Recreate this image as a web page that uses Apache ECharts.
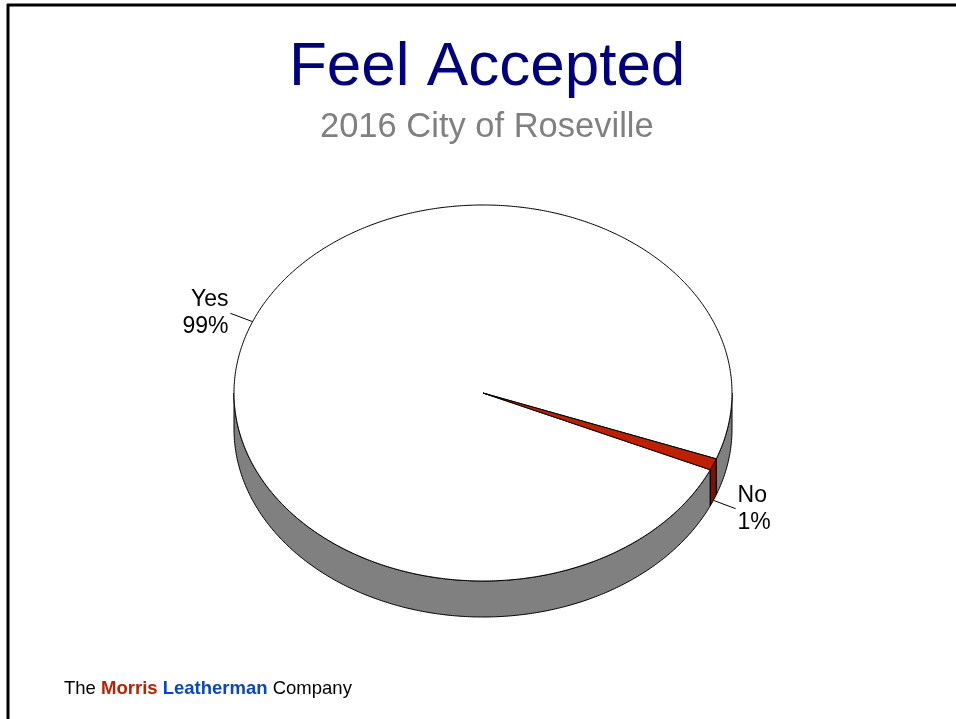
<!DOCTYPE html>
<html>
<head>
<meta charset="utf-8">
<title>Feel Accepted</title>
<script src="https://cdn.jsdelivr.net/npm/echarts@6/dist/echarts.min.js"></script>
<style>
  html, body { margin: 0; padding: 0; background: #fff; }
  #main { width: 956px; height: 719px; }
</style>
</head>
<body>
<div id="main"></div>
<script>
// 数据
var categories = ['Yes', 'No'];
var values = [99, 1];
var sliceColors = ['#ffffff', '#c02000'];
var sideColors = ['#808080', '#7a1400'];

// 椭圆饼图的布局
var CX = 483, CY = 393, RX = 249, RY = 188, DEPTH = 36;
var START = 24.1; // 屏幕角度, 顺时针

var total = values.reduce(function (a, b) { return a + b; }, 0);

function pt(deg, dy) {
    var r = deg * Math.PI / 180;
    return [CX + RX * Math.cos(r), CY + RY * Math.sin(r) + (dy || 0)];
}

function arc(a, b, dy) {
    var pts = [];
    var n = Math.max(2, Math.ceil(Math.abs(b - a) / 0.5));
    for (var k = 0; k <= n; k++) {
        pts.push(pt(a + (b - a) * k / n, dy));
    }
    return pts;
}

function renderItem(params, api) {
    var i = params.dataIndex;
    var cum = 0;
    for (var j = 0; j < i; j++) cum += values[j];
    var a0 = START + 360 * cum / total;
    var a1 = a0 + 360 * values[i] / total;
    var children = [];

    // 侧面 (只画前半部分)
    for (var k = 0; k < 3; k++) {
        var s = Math.max(a0, k * 360), e = Math.min(a1, k * 360 + 180);
        if (e > s) {
            var top = arc(s, e, 0);
            var bot = arc(e, s, DEPTH);
            children.push({
                type: 'polygon',
                z2: 1,
                shape: { points: top.concat(bot) },
                style: { fill: sideColors[i], stroke: '#000', lineWidth: 1 }
            });
        }
    }

    // 顶面
    children.push({
        type: 'polygon',
        z2: 5,
        shape: { points: [[CX, CY]].concat(arc(a0, a1, 0)) },
        style: { fill: sliceColors[i], stroke: '#000', lineWidth: 1 }
    });

    // 标签和引导线
    var mid = (a0 + a1) / 2;
    var r = mid * Math.PI / 180;
    var c = Math.cos(r), sn = Math.sin(r);
    var p0 = pt(mid, sn > 0 ? DEPTH : 0);
    var p1 = [p0[0] + 24 * c, p0[1] + 22 * sn];
    children.push({
        type: 'polyline',
        z2: 6,
        shape: { points: [p0, p1] },
        style: { stroke: '#000', lineWidth: 1, fill: null }
    });
    children.push({
        type: 'text',
        z2: 6,
        x: p1[0] + (c >= 0 ? 2 : -2),
        y: p1[1],
        style: {
            text: categories[i] + '\n' + Math.round(values[i] / total * 100) + '%',
            fill: '#000',
            font: '23px "Liberation Sans", Arial, sans-serif',
            lineHeight: 27,
            align: c >= 0 ? 'left' : 'right',
            verticalAlign: 'middle'
        }
    });

    return { type: 'group', children: children };
}

var myChart = echarts.init(document.getElementById('main'));
var option = {
    backgroundColor: '#fff',
    animation: false,
    title: [
        {
            text: 'Feel Accepted',
            left: 284,
            top: 32,
            textStyle: { fontFamily: 'Liberation Sans', fontSize: 62, fontWeight: 'normal', color: '#000080' }
        },
        {
            text: '2016 City of Roseville',
            left: 315,
            top: 105,
            textStyle: { fontFamily: 'Liberation Sans', fontSize: 34.5, fontWeight: 'normal', color: '#808080' }
        }
    ],
    graphic: [
        { type: 'line', shape: { x1: 7, y1: 5, x2: 956, y2: 5 }, style: { stroke: '#000', lineWidth: 3 } },
        { type: 'line', shape: { x1: 8, y1: 4, x2: 8, y2: 719 }, style: { stroke: '#000', lineWidth: 3 } },
        {
            type: 'text',
            left: 64,
            top: 679,
            style: {
                text: '{a|The }{b|Morris }{c|Leatherman }{a|Company}',
                rich: {
                    a: { fontFamily: 'Liberation Sans', fontSize: 18.5, fill: '#000' },
                    b: { fontFamily: 'Liberation Sans', fontSize: 18.5, fontWeight: 'bold', fill: '#c02000' },
                    c: { fontFamily: 'Liberation Sans', fontSize: 18.5, fontWeight: 'bold', fill: '#0a46c8' }
                }
            }
        }
    ],
    series: [
        {
            type: 'custom',
            coordinateSystem: 'none',
            renderItem: renderItem,
            data: values.map(function (v, i) { return { name: categories[i], value: v }; })
        }
    ]
};
myChart.setOption(option);
</script>
</body>
</html>
